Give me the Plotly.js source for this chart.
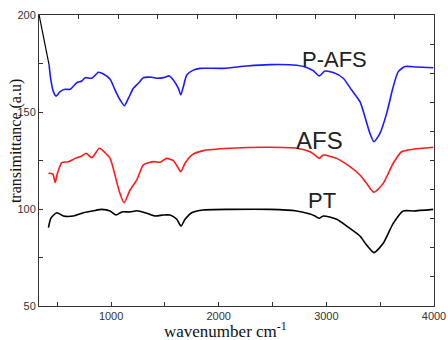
<!DOCTYPE html>
<html>
<head>
<meta charset="utf-8">
<script src="https://cdn.plot.ly/plotly-3.0.1.min.js"></script>
<style>html,body{margin:0;padding:0;background:#fff;}#chart{width:448px;height:340px;}</style>
</head>
<body>
<div id="chart"></div>
<script>
// Wavenumber (cm-1) and transmittance (a.u.)
const pafsX = [424,440,464,489,526,572,619,681,728,759,821,882,929,991,1037,1084,1123,1161,1207,1253,1300,1378,1424,1486,1541,1578,1625,1647,1671,1703,1764,1826,2043,2260,2476,2724,2817,2878,2934,2987,3064,3157,3235,3312,3358,3405,3442,3498,3560,3621,3668,3730,3838,3993];
const pafsY = [174.2,166.5,160.5,158.2,160.5,161.7,161.7,165.1,166.0,167.7,167.4,170.5,169.6,166.9,161.3,156.2,153.2,157.1,162.2,164.8,167.7,167.9,167.4,167.7,168.6,166.5,162.2,158.8,163.0,169.1,171.6,172.5,172.5,173.7,174.4,174.1,173.0,171.3,168.6,171.1,170.3,167.4,161.3,155.3,147.6,139.0,134.7,139.0,149.3,163.0,170.8,173.4,173.2,172.8];

const afsX = [418,459,480,501,542,604,666,728,768,821,891,944,991,1028,1077,1121,1176,1239,1300,1393,1455,1517,1578,1625,1647,1687,1749,1857,2105,2476,2724,2848,2894,2934,2971,3096,3219,3312,3374,3442,3528,3621,3699,3807,3993];
const afsY = [118.4,118.0,113.6,118.4,123.9,124.4,126.1,127.3,128.7,126.4,131.3,129.0,126.1,119.2,108.9,103.2,109.8,115.0,122.7,124.4,124.1,126.1,124.9,121.0,119.2,123.6,127.8,130.1,131.3,131.8,131.3,129.5,127.8,126.1,127.8,126.1,121.8,117.5,113.2,108.6,113.2,123.6,129.5,130.8,131.8];

const ptX = [418,440,496,557,650,743,836,914,991,1046,1099,1176,1239,1331,1409,1486,1548,1610,1650,1687,1749,1857,2105,2476,2724,2848,2894,2934,2971,3096,3219,3312,3374,3442,3528,3621,3714,3807,3993];
const ptY = [90.4,95.2,98.1,96.4,96.4,98.1,99.1,99.8,99.0,96.9,98.5,98.5,99.1,97.8,96.4,96.9,96.9,94.7,91.2,94.7,98.1,99.5,99.8,99.8,99.0,97.4,96.4,95.2,96.4,94.7,90.0,86.1,81.4,77.5,82.3,92.6,99.0,99.0,99.8];

// stray black segment at the top-left of the original figure
const strayX = [331,424];
const strayY = [200,174.2];

const seriesNames = ['P-AFS','AFS','PT'];
const xTickVals = [1000,2000,3000,4000];
const yTickVals = [50,100,150,200];

const lineW = 1.6;
const traces = [
  {x: strayX, y: strayY, mode:'lines', line:{color:'#000', width:1.2}, showlegend:false, hoverinfo:'skip'},
  {x: pafsX, y: pafsY, name: seriesNames[0], mode:'lines', line:{color:'#1a1aff', width:lineW, shape:'spline', smoothing:0.6}},
  {x: afsX, y: afsY, name: seriesNames[1], mode:'lines', line:{color:'#ff1a1a', width:lineW, shape:'spline', smoothing:0.6}},
  {x: ptX, y: ptY, name: seriesNames[2], mode:'lines', line:{color:'#000', width:lineW, shape:'spline', smoothing:0.6}},
  {x:[null], y:[null], xaxis:'x2', yaxis:'y2', showlegend:false, hoverinfo:'skip'}
];

const tickFont = {family:'Liberation Sans, Arial, sans-serif', size:11, color:'#333'};
const axisCommon = {showgrid:false, zeroline:false, showline:true, linecolor:'#333', linewidth:1, ticks:'inside', ticklen:4, tickcolor:'#333', tickfont: tickFont};

const layout = {
  width:448, height:340,
  margin:{l:39, r:14, t:15, b:34},
  paper_bgcolor:'#fff', plot_bgcolor:'#fff',
  showlegend:false,
  xaxis: Object.assign({}, axisCommon, {range:[330,4000], tickvals:xTickVals, ticktext:xTickVals.map(String),
    minor:{ticks:'inside', dtick:500, tick0:0, ticklen:4, tickcolor:'#333'}}),
  yaxis: Object.assign({}, axisCommon, {range:[50,200], tickvals:yTickVals, ticktext:yTickVals.map(String),
    minor:{ticks:'inside', dtick:25, tick0:0, ticklen:4, tickcolor:'#333'}}),
  xaxis2: Object.assign({}, axisCommon, {overlaying:'x', side:'top', anchor:'y', range:[0,10], dtick:1, tick0:0, showticklabels:false}),
  yaxis2: Object.assign({}, axisCommon, {overlaying:'y', side:'right', anchor:'x', range:[0,10], dtick:1, tick0:0, showticklabels:false}),
  annotations:[
    {x:3071, y:177.3, xref:'x', yref:'y', text:seriesNames[0], showarrow:false, font:{family:'Liberation Sans, Arial, sans-serif', size:22, color:'#222'}},
    {x:2936, y:135.3, xref:'x', yref:'y', text:seriesNames[1], showarrow:false, font:{family:'Liberation Sans, Arial, sans-serif', size:24, color:'#222'}},
    {x:2959, y:104.6, xref:'x', yref:'y', text:seriesNames[2], showarrow:false, font:{family:'Liberation Sans, Arial, sans-serif', size:22, color:'#222'}},
    {x:0.473, y:-0.083, xref:'paper', yref:'paper', xanchor:'center', yanchor:'middle', text:'wavenumber cm<sup>-1</sup>', showarrow:false, font:{family:'Liberation Serif, Times New Roman, serif', size:17, color:'#111'}},
    {x:-0.058, y:0.567, xref:'paper', yref:'paper', xanchor:'center', yanchor:'middle', text:'transimittance (a.u)', textangle:-90, showarrow:false, font:{family:'Liberation Serif, Times New Roman, serif', size:16, color:'#111'}}
  ]
};

Plotly.newPlot('chart', traces, layout, {displayModeBar:false, staticPlot:true});
</script>
</body>
</html>
